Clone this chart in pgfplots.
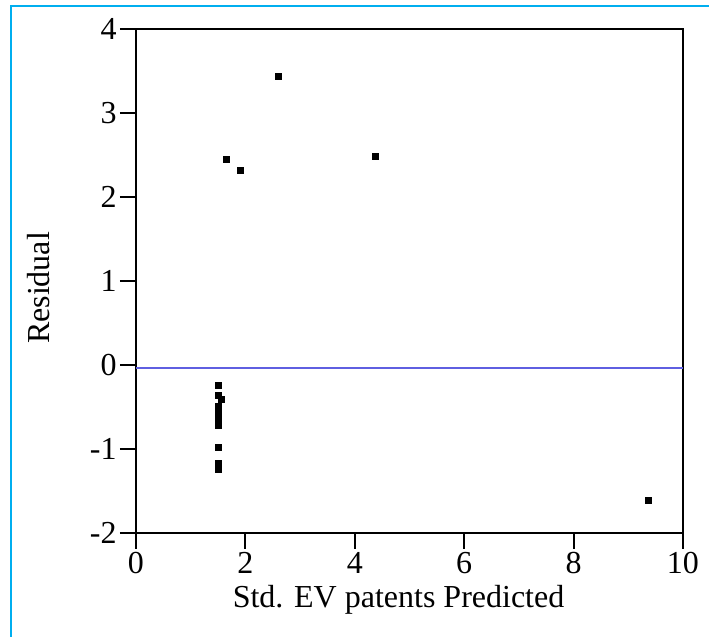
\documentclass[border=0pt]{standalone}
\usepackage{pgfplots}
\pgfplotsset{compat=1.18}
\usepackage{fontspec}
\setmainfont{Liberation Serif}
\definecolor{framecyan}{RGB}{0,174,239}
\definecolor{reflineblue}{RGB}{95,95,225}
\begin{document}
\begin{tikzpicture}
\path[use as bounding box] (0,0) rectangle (354.5pt,318.5pt);
\draw[framecyan, line width=1pt] (5.5pt,0) -- (5.5pt,315.25pt) -- (354.5pt,315.25pt);
\begin{axis}[
  at={(68pt,52.15pt)}, anchor=south west,
  scale only axis, width=273.5pt, height=251.85pt,
  xmin=0, xmax=10, ymin=-2, ymax=4,
  xtick={0,2,4,6,8,10}, ytick={-2,-1,0,1,2,3,4},
  tick pos=left, tick align=outside,
  major tick length=8pt,
  axis line style={line width=1pt, black},
  every tick/.style={black, line width=1pt},
  /pgf/number format/assume math mode=true,
  tick label style={font=\fontsize{16}{19}\selectfont, inner sep=1.5pt},
  label style={font=\fontsize{16}{19}\selectfont},
  xlabel={Std. EV patents Predicted},
  ylabel={Residual},
  xlabel style={at={(axis description cs:0.48,-0.134)}, anchor=center},
  ylabel style={at={(axis description cs:-0.179,0.486)}, anchor=center, rotate=0},
  clip=false,
]
\addplot[reflineblue, line width=0.9pt] coordinates {(0,-0.04) (10,-0.04)};
\addplot[only marks, mark=square*, mark size=1.5pt, black] coordinates {
(1.51,-0.25)
(1.51,-0.37)
(1.57,-0.41)
(1.51,-0.49) (1.51,-0.53) (1.51,-0.57) (1.51,-0.61) (1.51,-0.65) (1.51,-0.69) (1.51,-0.72)
(1.51,-0.98)
(1.51,-1.17) (1.51,-1.21) (1.51,-1.25)
(1.66,2.45) (1.90,2.32) (2.60,3.43) (4.37,2.48) (9.36,-1.62)
};
\end{axis}
\end{tikzpicture}
\end{document}
